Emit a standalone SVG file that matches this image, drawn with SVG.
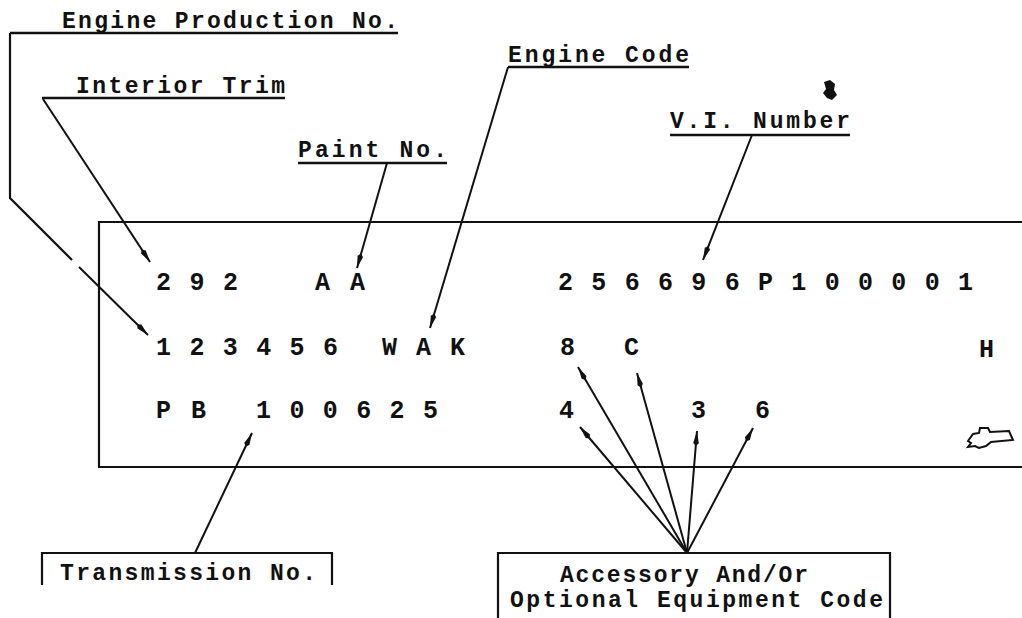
<svg xmlns="http://www.w3.org/2000/svg" width="1022" height="618" viewBox="0 0 1022 618">
<style>
.lbl{font-family:"Liberation Mono","DejaVu Sans Mono",monospace;font-size:23px;font-weight:bold;fill:#111}
.code{font-family:"Liberation Mono","DejaVu Sans Mono",monospace;font-size:25px;font-weight:bold;fill:#111}
.ln{stroke:#111;stroke-width:2.2;fill:none}
.ul{stroke:#111;stroke-width:2.4;fill:none}
.ar{stroke:#111;stroke-width:2;fill:none;marker-end:url(#ah)}
</style>
<defs>
<marker id="ah" markerUnits="userSpaceOnUse" markerWidth="16" markerHeight="8" viewBox="0 0 16 8" refX="15" refY="4" orient="auto">
<path d="M0,4 L3,1.2 L15,4 L3,6.8 Z" fill="#111"/>
</marker>
</defs>
<rect width="1022" height="618" fill="#fff"/>

<g id="plate">
<path class="ln" d="M1022,222 H99 V467 H1022" stroke-width="2.6"/>
<text class="code" x="156" y="290" textLength="82" lengthAdjust="spacing">2 9 2</text>
<text class="code" x="315" y="290" textLength="50" lengthAdjust="spacing">A A</text>
<text class="code" x="558" y="290" textLength="415" lengthAdjust="spacing">2 5 6 6 9 6 P 1 0 0 0 0 1</text>
<text class="code" x="156" y="355" textLength="182" lengthAdjust="spacing">1 2 3 4 5 6</text>
<text class="code" x="382" y="355" textLength="83" lengthAdjust="spacing">W A K</text>
<text class="code" x="560" y="355">8</text>
<text class="code" x="624" y="355">C</text>
<text class="code" x="979" y="357">H</text>
<text class="code" x="156" y="418" textLength="50" lengthAdjust="spacing">P B</text>
<text class="code" x="256" y="418" textLength="182" lengthAdjust="spacing">1 0 0 6 2 5</text>
<text class="code" x="559" y="418">4</text>
<text class="code" x="691" y="418">3</text>
<text class="code" x="755" y="418">6</text>
<path d="M968,441 L973,434 L979,433 L980,428 L988,428 L990,432 L1009,431 L1013,440 L991,442 L986,446 L979,448 L975,446 L968,447 L971,443 Z" fill="none" stroke="#111" stroke-width="2"/>
</g>

<g id="label-engine-production">
<text class="lbl" x="62" y="28" textLength="336" lengthAdjust="spacing">Engine Production No.</text>
<line class="ul" x1="10" y1="33" x2="398" y2="33"/>
</g>
<g id="label-interior-trim">
<text class="lbl" x="76" y="93" textLength="209" lengthAdjust="spacing">Interior Trim</text>
<line class="ul" x1="42" y1="98" x2="285" y2="98"/>
</g>
<g id="label-paint">
<text class="lbl" x="298" y="157" textLength="149" lengthAdjust="spacing">Paint No.</text>
<line class="ul" x1="298" y1="163" x2="447" y2="163"/>
</g>
<g id="label-engine-code">
<text class="lbl" x="508" y="62" textLength="181" lengthAdjust="spacing">Engine Code</text>
<line class="ul" x1="508" y1="67" x2="689" y2="67"/>
</g>
<g id="label-vi-number">
<text class="lbl" x="670" y="128" textLength="180" lengthAdjust="spacing">V.I. Number</text>
<line class="ul" x1="670" y1="135" x2="850" y2="135"/>
<path d="M824,82 L830,80 L835,84 L834,90 L837,95 L832,100 L827,98 L823,93 L826,89 Z" fill="#111"/>
</g>
<g id="label-transmission">
<path class="ln" d="M42,585 V553 H332 V585"/>
<text class="lbl" x="60" y="580" textLength="256" lengthAdjust="spacing">Transmission No.</text>
</g>
<g id="label-accessory">
<path class="ln" d="M498,618 V553 H890 V618"/>
<text class="lbl" x="560" y="582" textLength="248" lengthAdjust="spacing">Accessory And/Or</text>
<text class="lbl" x="510" y="607" textLength="373" lengthAdjust="spacing">Optional Equipment Code</text>
</g>

<g id="connectors">
<path class="ln" d="M10,33 V198 L72,260"/>
<line class="ar" x1="79" y1="267" x2="148" y2="335"/>
<line class="ar" x1="43" y1="99" x2="150" y2="262"/>
<line class="ar" x1="387" y1="163" x2="357" y2="268"/>
<line class="ar" x1="508" y1="67" x2="430" y2="328"/>
<line class="ar" x1="752" y1="135" x2="703" y2="260"/>
<line class="ar" x1="195" y1="553" x2="252" y2="433"/>
<line class="ar" x1="687" y1="553" x2="580" y2="427"/>
<line class="ar" x1="687" y1="553" x2="578" y2="367"/>
<line class="ar" x1="687" y1="553" x2="637" y2="373"/>
<line class="ar" x1="687" y1="553" x2="697" y2="431"/>
<line class="ar" x1="687" y1="553" x2="753" y2="428"/>
</g>
</svg>
